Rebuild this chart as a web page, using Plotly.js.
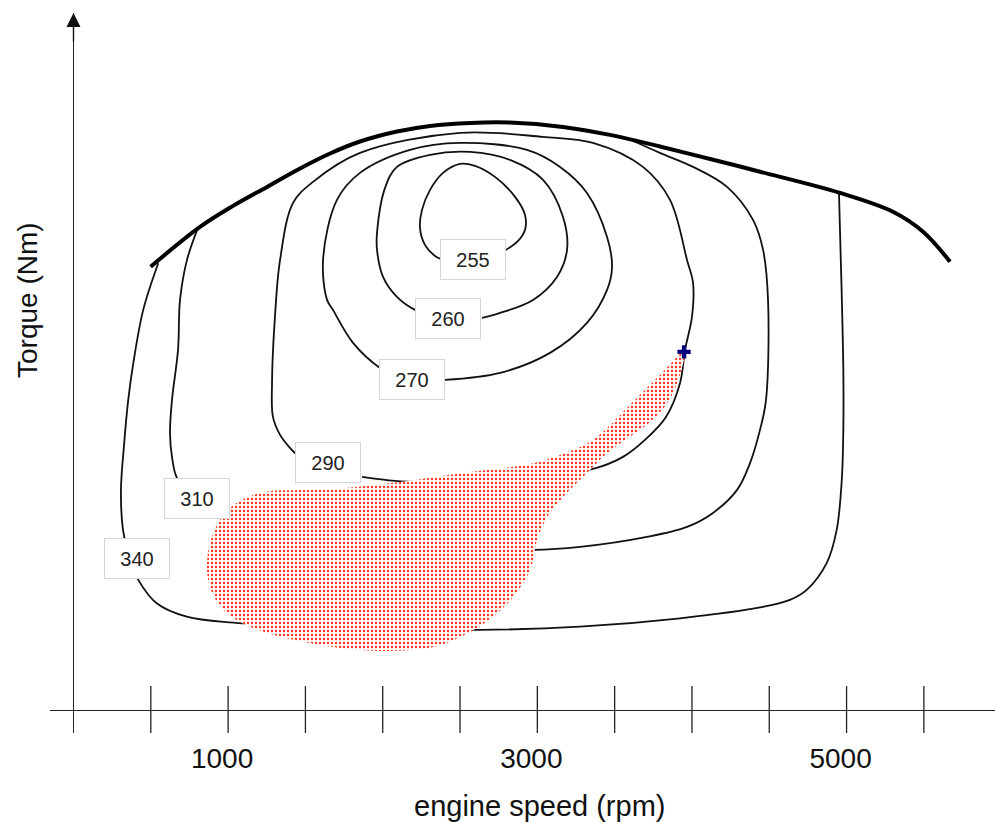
<!DOCTYPE html>
<html>
<head>
<meta charset="utf-8">
<script src="https://cdn.plot.ly/plotly-3.0.1.min.js"></script>
<style>html,body{margin:0;padding:0;background:#fff;}#chart{width:995px;height:822px;}</style>
</head>
<body>
<div id="chart"></div>
<script>
// ---- data (engine speed in rpm, torque in Nm) ----
const tickRpm = [500, 1000, 1500, 2000, 2500, 3000, 3500, 4000, 4500, 5000, 5500];
const tickLabelRpm = [1000, 3000, 5000];
const tickLabelText = ['1000', '3000', '5000'];

const maxTorqueRpm = [499, 818, 1032, 1252, 1465, 1659, 1853, 2092, 2306, 2565, 2823, 3166, 3470, 3793, 4182, 4440, 4958, 5300, 5495, 5669];
const maxTorqueNm  = [221.8, 241.7, 252.2, 261.7, 270.9, 278.4, 284.4, 289.4, 292.2, 293.7, 293.9, 291.7, 287.7, 281.9, 274.4, 269.3, 258.7, 249.3, 239.3, 224.3];

const c340Rpm = [548, 451, 387, 354, 327, 307, 320, 365, 419, 538, 732, 1034, 1788, 2629, 3276, 3923, 4459, 4634, 4742, 4872, 4936, 4969, 4979, 4979, 4968, 4951];
const c340Nm  = [223.5, 200.2, 173.7, 155.2, 132.7, 110.2, 90.2, 75.2, 65.2, 53.5, 46.8, 43.8, 41.2, 40.2, 41.8, 46, 51.7, 55.2, 60.2, 73.7, 90.2, 115.2, 140.2, 170, 210, 258.5];

const c310Rpm = [805, 734, 689, 676, 637, 624, 637, 669, 786, 993, 1465, 2241, 2972, 3276, 3709, 3968, 4136, 4292, 4376, 4440, 4479, 4492, 4460, 4395, 4227, 4007, 3793, 3610];
const c310Nm  = [241.2, 225.2, 205.2, 180.2, 155.2, 138.7, 126.7, 116.2, 105.2, 94.7, 87.2, 82.2, 80.2, 81.7, 86.7, 91.7, 98.7, 110.2, 123.7, 140.2, 155.2, 205.2, 230.2, 245.2, 261.7, 271.7, 278.7, 285];

const c290Rpm = [1866, 2079, 2273, 2629, 3017, 3360, 3554, 3696, 3832, 3923, 3955, 4000, 4007, 3968, 3858, 3683, 3360, 3037, 2500, 1853, 1549, 1420, 1336, 1303, 1284, 1290, 1336, 1400, 1465];
const c290Nm  = [116.7, 114.7, 114.2, 114.7, 117.2, 120.7, 126.7, 135.2, 146.7, 163.7, 180.2, 196.7, 213.7, 225.2, 255.2, 271.7, 283.7, 286.7, 288.7, 278.7, 264.2, 253.7, 225.2, 196.7, 163.7, 146.7, 137.7, 131.2, 126.2];

const c270Rpm = [2403, 2759, 3082, 3321, 3451, 3483, 3451, 3321, 3147, 2933, 2500, 2176, 1853, 1704, 1614, 1640, 1678, 1808, 1982, 2112];
const c270Nm  = [165.2, 168.7, 178.7, 193.7, 210.2, 221.7, 236.7, 258.7, 271.7, 280.2, 283.7, 280.2, 268.7, 255.2, 225.2, 205.2, 200.2, 183.7, 171.2, 166.2];

const c260Rpm = [2642, 2759, 2972, 3127, 3192, 3166, 3037, 2823, 2565, 2306, 2092, 2015, 1963, 1963, 2002, 2092, 2209, 2370];
const c260Nm  = [196.2, 198.7, 205.2, 216.7, 230.2, 246.7, 265.2, 275.2, 279.2, 277.7, 271.7, 261.2, 238.7, 230.2, 216.7, 206.7, 200.2, 196.2];

const c255Rpm = [2797, 2875, 2920, 2920, 2856, 2726, 2597, 2500, 2390, 2306, 2254, 2241, 2273, 2338, 2435];
const c255Nm  = [230.2, 234.7, 240.2, 247.7, 256.7, 266.7, 272.2, 273.2, 268.7, 260.2, 250.2, 241.2, 232.7, 227.2, 224.2];

const regionRpm = [3949, 3916, 3845, 3729, 3567, 3438, 3341, 3166, 3063, 2998, 2953, 2843, 2726, 2565, 2325, 2002, 1724, 1465, 1252, 1077, 960, 889, 863, 883, 948, 1064, 1239, 1465, 1678, 2112, 2519, 2953, 3147, 3341, 3438, 3567, 3696, 3826, 3949];
const regionNm  = [179.2, 166.2, 154.2, 144.2, 135.2, 127.7, 120.2, 106.7, 96.7, 85.2, 70.2, 56.7, 47.7, 39.2, 31.7, 29.7, 31.2, 34.7, 38.7, 44.2, 51.2, 60.2, 71.2, 83.7, 95.2, 104.2, 109.2, 110.2, 110.7, 114.2, 118.7, 123.2, 127.7, 134.2, 140.2, 150.2, 160.2, 170.2, 179.2];

const pointRpm = [3949];
const pointNm  = [179.2];

const levelText = ['255', '260', '270', '290', '310', '340'];
const levelRpm  = [2581, 2422, 2191, 1649, 797, 409];
const levelNm   = [225.3, 195.7, 165.6, 124, 105.7, 75.8];

// ---- drawing ----
const FONT = '"Liberation Sans", Arial, sans-serif';
function contour(x, y) {
  return {type: 'scatter', mode: 'lines', x: x, y: y,
          line: {color: '#111', width: 1.8, shape: 'spline', smoothing: 1},
          hoverinfo: 'skip', showlegend: false};
}
const traces = [
  contour(c340Rpm, c340Nm),
  contour(c310Rpm, c310Nm),
  contour(c290Rpm, c290Nm),
  contour(c270Rpm, c270Nm),
  contour(c260Rpm, c260Nm),
  contour(c255Rpm, c255Nm),
  {type: 'scatter', mode: 'lines', x: maxTorqueRpm, y: maxTorqueNm,
   line: {color: '#000', width: 4, shape: 'spline', smoothing: 1}, showlegend: false},
  {type: 'scatter', mode: 'lines', x: regionRpm, y: regionNm, fill: 'toself',
   line: {width: 0, shape: 'spline', smoothing: 1},
   fillcolor: 'rgba(255,60,40,0.5)',
   fillpattern: {shape: '.', fgcolor: '#ff3a24', bgcolor: '#ffffff', size: 4, solidity: 0.3},
   showlegend: false},
  {type: 'scatter', mode: 'markers', x: pointRpm, y: pointNm,
   marker: {symbol: 'cross', size: 11, color: '#00007a'}, showlegend: false}
];

const shapes = tickRpm.map(v => ({type: 'line', xref: 'x', yref: 'y', x0: v, x1: v, y0: -11.5, y1: 12.1,
  line: {color: '#222', width: 1.3}, layer: 'below'}));

const annotations = levelText.map((t, i) => ({
  xref: 'x', yref: 'y', x: levelRpm[i], y: levelNm[i], text: t, showarrow: false,
  font: {family: FONT, size: 20, color: '#222'},
  bgcolor: '#ffffff', bordercolor: '#d6d6d6', borderwidth: 1, borderpad: 0,
  width: 64, height: 39, align: 'center', valign: 'middle'
}));
annotations.push(
  {xref: 'x', yref: 'y', x: 0, y: 348.6, ax: 0, ay: 30, text: '', showarrow: true,
   arrowhead: 2, arrowsize: 2, arrowwidth: 1.4, arrowcolor: '#111', standoff: 0},
  {xref: 'x', yref: 'y', x: 5993, y: 0, ax: -30, ay: 0, text: '', showarrow: true,
   arrowhead: 2, arrowsize: 2, arrowwidth: 1.4, arrowcolor: '#111', standoff: 0},
  {xref: 'paper', yref: 'paper', x: 0.5175, y: -0.1014, xanchor: 'center', yanchor: 'middle',
   text: 'engine speed (rpm)', showarrow: false, font: {family: FONT, size: 29, color: '#111'}},
  {xref: 'paper', yref: 'paper', x: -0.0233, y: 0.6014, xanchor: 'center', yanchor: 'middle',
   text: 'Torque (Nm)', textangle: -90, showarrow: false, font: {family: FONT, size: 28, color: '#111'}}
);

const layout = {
  width: 995, height: 822,
  margin: {l: 50, r: 0, t: 13, b: 89, pad: 0},
  paper_bgcolor: '#ffffff', plot_bgcolor: '#ffffff',
  showlegend: false,
  xaxis: {range: [-152, 5960], showgrid: false, zeroline: true, zerolinecolor: '#222', zerolinewidth: 1.3,
          showline: false, ticks: '', tickvals: tickLabelRpm, ticktext: tickLabelText,
          tickfont: {family: FONT, size: 28, color: '#111'}, ticklabelshift: -6, ticklabelstandoff: 6,
          fixedrange: true},
  yaxis: {range: [-11.35, 348.65], showgrid: false, zeroline: true, zerolinecolor: '#222', zerolinewidth: 1.3,
          showline: false, ticks: '', showticklabels: false, fixedrange: true},
  shapes: shapes,
  annotations: annotations
};

Plotly.newPlot('chart', traces, layout, {staticPlot: true, displayModeBar: false});
</script>
</body>
</html>
